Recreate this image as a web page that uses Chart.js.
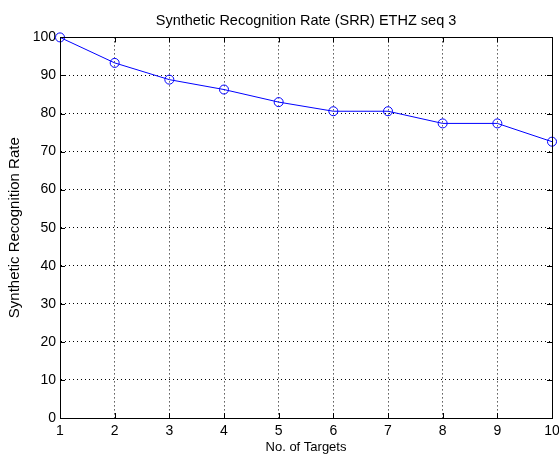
<!DOCTYPE html>
<html>
<head>
<meta charset="utf-8">
<script src="https://cdn.jsdelivr.net/npm/chart.js@4"></script>
<style>
html,body{margin:0;padding:0;background:#fff;}
#wrap{width:559px;height:460px;}
</style>
</head>
<body>
<div id="wrap"><canvas id="c" width="559" height="460"></canvas></div>
<script>
const targets = [1, 2, 3, 4, 5, 6, 7, 8, 9, 10];
const srr = [100, 93.3, 88.9, 86.3, 83.0, 80.6, 80.6, 77.4, 77.4, 72.6];
const xTicks = [1, 2, 3, 4, 5, 6, 7, 8, 9, 10];
const yTicks = [0, 10, 20, 30, 40, 50, 60, 70, 80, 90, 100];
const titleText = 'Synthetic Recognition Rate (SRR) ETHZ seq 3';
const xLabel = 'No. of Targets';
const yLabel = 'Synthetic Recognition Rate';

const FONT = "'Liberation Sans', Arial, sans-serif";

const boxTicks = {
  id: 'boxTicks',
  afterDatasetsDraw(chart) {
    const {ctx, chartArea: a, scales: {x, y}} = chart;
    ctx.save();
    ctx.strokeStyle = '#000';
    ctx.lineWidth = 1;
    ctx.setLineDash([]);
    ctx.beginPath();
    const L = 5;
    xTicks.forEach(v => {
      const px = Math.round(x.getPixelForValue(v)) + 0.5;
      ctx.moveTo(px, a.bottom); ctx.lineTo(px, a.bottom - L);
      ctx.moveTo(px, a.top); ctx.lineTo(px, a.top + L);
    });
    yTicks.forEach(v => {
      const py = Math.round(y.getPixelForValue(v)) + 0.5;
      ctx.moveTo(a.left, py); ctx.lineTo(a.left + L, py);
      ctx.moveTo(a.right, py); ctx.lineTo(a.right - L, py);
    });
    ctx.stroke();
    ctx.strokeRect(Math.round(a.left) + 0.5, Math.round(a.top) + 0.5,
                   Math.round(a.right - a.left), Math.round(a.bottom - a.top));
    ctx.restore();
  }
};

new Chart(document.getElementById('c'), {
  type: 'line',
  data: {
    datasets: [{
      data: targets.map((t, i) => ({x: t, y: srr[i]})),
      borderColor: '#0000ff',
      borderWidth: 1,
      backgroundColor: 'rgba(0,0,0,0)',
      pointStyle: 'circle',
      pointRadius: 4.5,
      pointBorderWidth: 1,
      pointBorderColor: '#0000ff',
      pointBackgroundColor: 'rgba(0,0,0,0)',
      tension: 0,
      clip: false
    }]
  },
  options: {
    responsive: false,
    animation: false,
    devicePixelRatio: 1,
    layout: {padding: {left: 0, right: 0, top: 0, bottom: 0}},
    plugins: {
      legend: {display: false},
      tooltip: {enabled: false},
      title: {
        display: true,
        fullSize: false,
        text: titleText,
        color: '#000',
        font: {family: FONT, size: 14.5, weight: 'normal', lineHeight: 1.2},
        padding: {top: 12, bottom: 8}
      }
    },
    scales: {
      x: {
        type: 'linear',
        min: 1, max: 10,
        afterBuildTicks(s) { s.ticks = xTicks.map(v => ({value: v})); },
        afterFit(s) { s.height = 42; s.paddingRight = 7; s.paddingLeft = 0; },
        grid: {color: '#000', lineWidth: 1, drawTicks: false},
        border: {display: true, color: '#000', dash: [1, 3]},
        ticks: {color: '#000', font: {family: FONT, size: 14}, padding: 5, maxRotation: 0, autoSkip: false},
        title: {display: true, text: xLabel, color: '#000', font: {family: FONT, size: 13, lineHeight: 1.2}, padding: {top: 0, bottom: 5}}
      },
      y: {
        type: 'linear',
        min: 0, max: 100,
        afterBuildTicks(s) { s.ticks = yTicks.map(v => ({value: v})); },
        afterFit(s) { s.width = 60; },
        grid: {color: '#000', lineWidth: 1, drawTicks: false},
        border: {display: true, color: '#000', dash: [1, 3]},
        ticks: {color: '#000', font: {family: FONT, size: 14}, padding: 4},
        title: {display: true, text: yLabel, color: '#000', font: {family: FONT, size: 15, lineHeight: 1.2}, padding: {top: 6, bottom: 0}}
      }
    }
  },
  plugins: [boxTicks]
});
</script>
</body>
</html>
